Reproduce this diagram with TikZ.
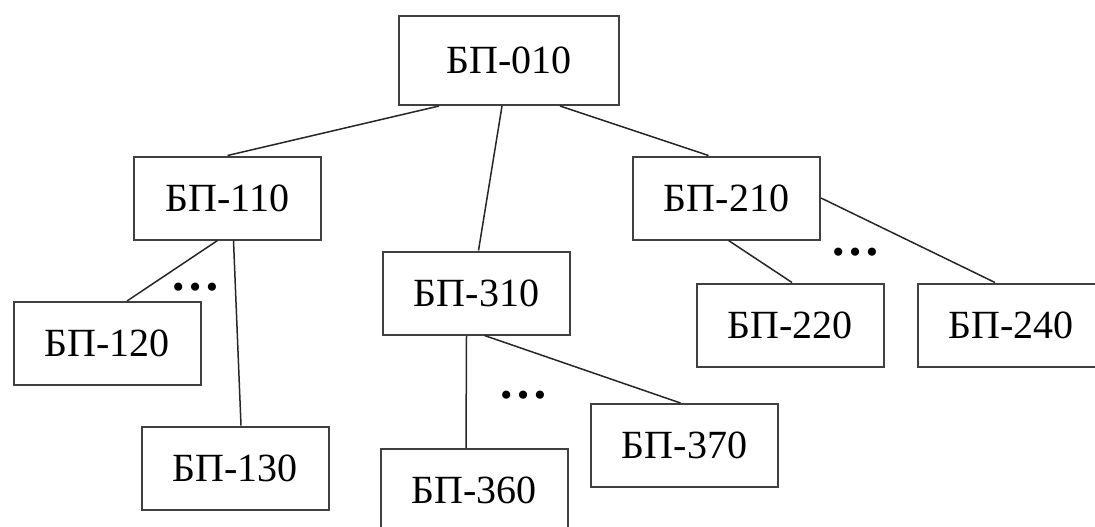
\documentclass[tikz,border=0pt]{standalone}
\usepackage{fontspec}
\setmainfont{Liberation Serif}
\usetikzlibrary{positioning}
\tikzset{
  bpbox/.style={draw=black!75, line width=1pt, fill=white, inner sep=0pt,
    minimum width=93.5pt, minimum height=41.5pt, font=\fontsize{20}{24}\selectfont},
  topbox/.style={bpbox, minimum width=110pt, minimum height=44.5pt},
  link/.style={line width=0.75pt, draw=black!85},
  gap/.style={font=\fontsize{25}{30}\selectfont\bfseries, inner sep=0pt, anchor=base},
}
\begin{document}
\begin{tikzpicture}[x=0.5pt, y=-0.5pt]
    \useasboundingbox (0,0) rectangle (1095,526);
    % boxes
    \node[topbox] (b010) at (509,60.5) {БП-010};
    \node[bpbox] (b110) at (227.5,198) {БП-110};
    \node[bpbox] (b210) at (726.5,198) {БП-210};
    \node[bpbox] (b310) at (476.5,293) {БП-310};
    \node[bpbox] (b120) at (107,343.5) {БП-120};
    \node[bpbox] (b130) at (235,468) {БП-130};
    \node[bpbox] (b360) at (474,490.5) {БП-360};
    \node[bpbox] (b370) at (684.5,445.5) {БП-370};
    \node[bpbox] (b220) at (790,325) {БП-220};
    \node[bpbox] (b240) at (1011,325) {БП-240};
    % omitted ones
    \node[gap] (dots1) at (195,290.5) {…};
    \node[gap] (dots2) at (523,398.5) {…};
    \node[gap] (dots3) at (855,255.5) {…};
    % links
    \draw[link] ([xshift=-35pt]b010.south) -- (b110.north);
    \draw[link] ([xshift=-3.5pt]b010.south) -- ([xshift=1pt]b310.north);
    \draw[link] ([xshift=25.5pt]b010.south) -- ([xshift=-9pt]b210.north);
    \draw[link] ([xshift=-5pt]b110.south) -- ([xshift=10pt]b120.north);
    \draw[link] ([xshift=3pt]b110.south) -- ([xshift=3pt]b130.north);
    \draw[link] ([xshift=-5pt]b310.south) -- ([xshift=-4pt]b360.north);
    \draw[link] ([xshift=4pt]b310.south) -- ([xshift=-2pt]b370.north);
    \draw[link] ([xshift=1pt]b210.south) -- ([xshift=1pt]b220.north);
    \draw[link] (b210.east) -- ([xshift=-8pt]b240.north);
\end{tikzpicture}
\end{document}
